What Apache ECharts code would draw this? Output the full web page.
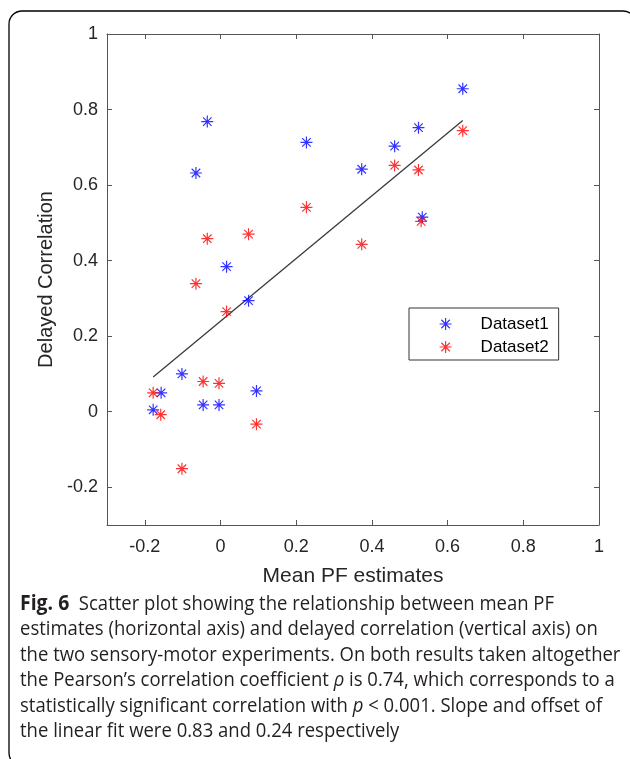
<!DOCTYPE html>
<html>
<head>
<meta charset="utf-8">
<script src="https://cdn.jsdelivr.net/npm/echarts@6/dist/echarts.min.js"></script>
<style>
  html, body { margin: 0; padding: 0; background: #fff; }
  #chart { width: 630px; height: 759px; }
</style>
</head>
<body>
<div id="chart"></div>
<script>
// tick labels
const xTicks = [-0.2, 0, 0.2, 0.4, 0.6, 0.8, 1]
const yTicks = [-0.2, 0, 0.2, 0.4, 0.6, 0.8, 1]

// Dataset1 (blue)
const set1X = [-0.178, -0.157, -0.102, -0.046, -0.004, 0.095, 0.016, 0.074, -0.065, -0.035, 0.227, 0.373, 0.460, 0.523, 0.640, 0.533]
const set1Y = [0.005, 0.050, 0.100, 0.018, 0.018, 0.055, 0.384, 0.294, 0.632, 0.768, 0.713, 0.642, 0.703, 0.752, 0.855, 0.515]

// Dataset2 (red)
const set2X = [-0.178, -0.158, -0.102, -0.046, -0.004, 0.095, 0.016, -0.065, -0.035, 0.074, 0.227, 0.373, 0.460, 0.523, 0.640, 0.530]
const set2Y = [0.050, -0.008, -0.151, 0.080, 0.075, -0.033, 0.265, 0.339, 0.458, 0.470, 0.541, 0.443, 0.652, 0.640, 0.744, 0.504]

// linear fit end points
const fitX = [-0.178, 0.640]
const fitY = [0.092, 0.771]

// caption lines
const captionLines = [
  '{b|Fig. 6}  Scatter plot showing the relationship between mean PF',
  'estimates (horizontal axis) and delayed correlation (vertical axis) on',
  'the two sensory-motor experiments. On both results taken altogether',
  'the Pearson\u2019s correlation coefficient {i|\u03c1} is 0.74, which corresponds to a',
  'statistically significant correlation with {i|p} < 0.001. Slope and offset of',
  'the linear fit were 0.83 and 0.24 respectively'
]

const zip = (xs, ys) => xs.map((x, i) => [x, ys[i]])
const star = 'path://M6,0L6,12M0,6L12,6M1.76,1.76L10.24,10.24M1.76,10.24L10.24,1.76'
const axisFont = 'Liberation Sans, Arial, sans-serif'
const capFont = 'Open Sans, sans-serif'
const boxColor = '#555'

const chart = echarts.init(document.getElementById('chart'), null, {renderer: 'canvas'})

// top / right box sides with inward ticks
const mirrorAxis = (pos, ticks) => ({
  type: 'value',
  position: pos,
  min: -0.3,
  max: 1,
  axisLine: {show: true, onZero: false, lineStyle: {color: boxColor, width: 1}},
  axisTick: {show: true, inside: true, length: 5, customValues: ticks, lineStyle: {color: boxColor}},
  axisLabel: {show: false},
  splitLine: {show: false}
})

const option = {
  animation: false,
  backgroundColor: '#fff',
  grid: {left: 107, top: 34, right: 31, bottom: 234},
  legend: {
    data: ['Dataset1', 'Dataset2'],
    orient: 'vertical',
    align: 'left',
    left: 409,
    top: 308,
    padding: [6, 10, 3, 30],
    itemGap: 3,
    itemWidth: 12,
    itemHeight: 12,
    selectedMode: false,
    borderColor: '#333',
    borderWidth: 1,
    itemStyle: {borderWidth: 1.2},
    // blank gap between marker and name, as in the original legend
    formatter: name => '{g|}' + name,
    textStyle: {
      fontSize: 17, lineHeight: 20, color: '#000', fontFamily: axisFont,
      rich: {g: {width: 24, fontSize: 17, lineHeight: 20}}
    }
  },
  xAxis: [
    {
      type: 'value',
      position: 'bottom',
      min: -0.3,
      max: 1,
      name: 'Mean PF estimates',
      nameLocation: 'middle',
      nameGap: 41,
      nameTextStyle: {fontSize: 21, color: '#262626', fontFamily: axisFont},
      axisLine: {show: true, onZero: false, lineStyle: {color: boxColor, width: 1}},
      axisTick: {show: true, inside: true, length: 5, customValues: xTicks, lineStyle: {color: boxColor}},
      axisLabel: {customValues: xTicks, fontSize: 18, color: '#262626', fontFamily: axisFont, margin: 13},
      splitLine: {show: false}
    },
    mirrorAxis('top', xTicks)
  ],
  yAxis: [
    {
      type: 'value',
      position: 'left',
      min: -0.3,
      max: 1,
      name: 'Delayed Correlation',
      nameLocation: 'middle',
      nameGap: 50,
      nameTextStyle: {fontSize: 20, color: '#262626', fontFamily: axisFont},
      axisLine: {show: true, onZero: false, lineStyle: {color: boxColor, width: 1}},
      axisTick: {show: true, inside: true, length: 5, customValues: yTicks, lineStyle: {color: boxColor}},
      axisLabel: {customValues: yTicks, fontSize: 18, color: '#262626', fontFamily: axisFont, margin: 9},
      splitLine: {show: false}
    },
    mirrorAxis('right', yTicks)
  ],
  series: [
    {
      name: 'Dataset1',
      type: 'scatter',
      symbol: star,
      symbolSize: 12,
      itemStyle: {color: 'rgba(0,0,0,0)', borderColor: '#0000ff', borderWidth: 1.2},
      emphasis: {disabled: true},
      data: zip(set1X, set1Y),
      z: 3
    },
    {
      name: 'Dataset2',
      type: 'scatter',
      symbol: star,
      symbolSize: 12,
      itemStyle: {color: 'rgba(0,0,0,0)', borderColor: '#ff0000', borderWidth: 1.2},
      emphasis: {disabled: true},
      data: zip(set2X, set2Y),
      z: 3
    },
    {
      name: 'fit',
      type: 'line',
      symbol: 'none',
      lineStyle: {color: '#3a3a3a', width: 1.3},
      emphasis: {disabled: true},
      data: zip(fitX, fitY),
      z: 2
    }
  ],
  graphic: [
    {
      type: 'rect',
      shape: {x: 9, y: 11, width: 627, height: 755, r: 13},
      style: {fill: 'none', stroke: '#000', lineWidth: 1.3},
      silent: true
    },
    ...captionLines.map((line, i) => ({
      type: 'text',
      x: 20,
      y: 604 + i * 25.5,
      scaleX: 0.925,
      silent: true,
      style: {
        text: line,
        fontFamily: capFont,
        fontSize: 20,
        fill: '#231f20',
        verticalAlign: 'middle',
        rich: {
          b: {fontFamily: capFont, fontSize: 21, fontWeight: 'bold', fill: '#231f20'},
          i: {fontFamily: capFont, fontSize: 20, fontStyle: 'italic', fill: '#231f20'}
        }
      }
    }))
  ]
}

chart.setOption(option)
</script>
</body>
</html>
